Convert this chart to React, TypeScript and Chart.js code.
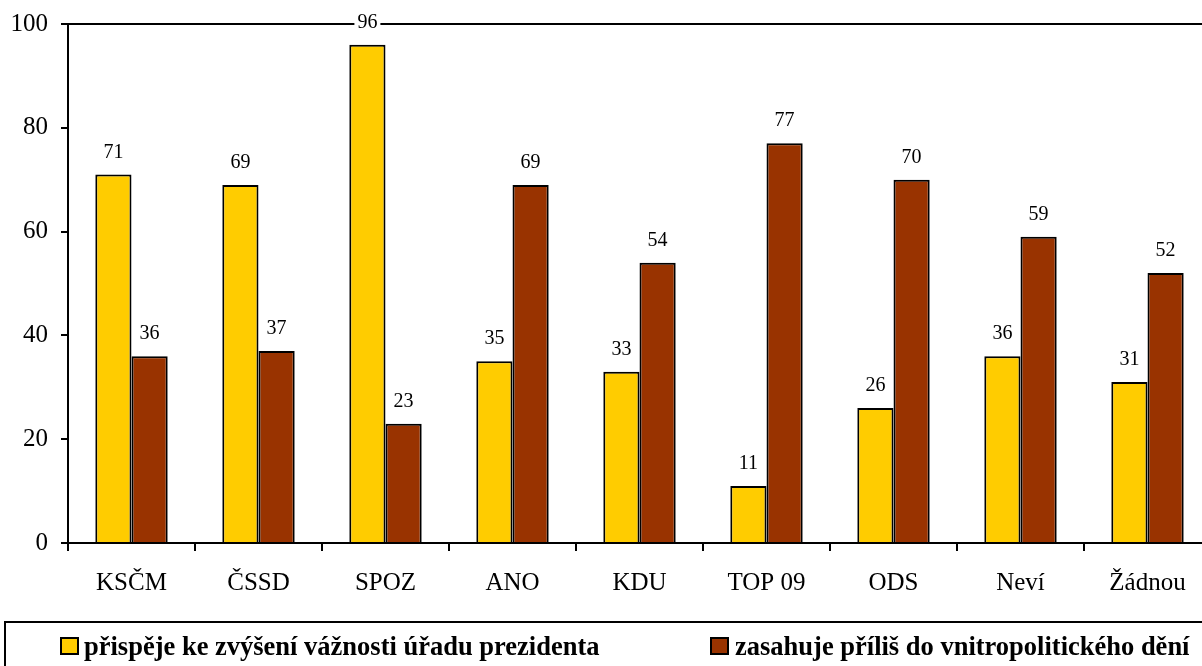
import React, { useEffect, useRef } from "react";
import { Chart, registerables } from "chart.js";

Chart.register(...registerables);

const categories = ["KSČM", "ČSSD", "SPOZ", "ANO", "KDU", "TOP 09", "ODS", "Neví", "Žádnou"];
const seriesPrestige = [71, 69, 96, 35, 33, 11, 26, 36, 31];
const seriesInterferes = [36, 37, 23, 69, 54, 77, 70, 59, 52];
const seriesNames = [
  "přispěje ke zvýšení vážnosti úřadu prezidenta",
  "zasahuje příliš do vnitropolitického dění",
];
const seriesColors = ["#FFCC00", "#993300"];
const yTicks = [0, 20, 40, 60, 80, 100];

const FONT = "'Liberation Serif', 'Times New Roman', serif";

const decorPlugin = {
  id: "decor",
  afterDatasetsDraw(chart: any) {
    const ctx = chart.ctx;
    const area = chart.chartArea;
    ctx.save();
    // top frame line
    ctx.strokeStyle = "#000";
    ctx.lineWidth = 2;
    ctx.beginPath();
    ctx.moveTo(61, area.top);
    ctx.lineTo(chart.width, area.top);
    ctx.stroke();
    // value labels
    ctx.font = `20px ${FONT}`;
    ctx.textAlign = "center";
    ctx.textBaseline = "alphabetic";
    chart.data.datasets.forEach((ds: any, di: number) => {
      const meta = chart.getDatasetMeta(di);
      meta.data.forEach((bar: any, i: number) => {
        const txt = String(ds.data[i]);
        const w = ctx.measureText(txt).width;
        const y = bar.y - 17;
        ctx.fillStyle = "#fff";
        ctx.fillRect(bar.x - w / 2 - 3, y - 16, w + 6, 20);
        ctx.fillStyle = "#000";
        ctx.fillText(txt, bar.x, y);
      });
    });
    ctx.restore();
  },
  afterDraw(chart: any) {
    const ctx = chart.ctx;
    ctx.save();
    ctx.strokeStyle = "#000";
    ctx.lineWidth = 2;
    ctx.strokeRect(5, 622, chart.width + 20, 80);
    const items = [
      { sx: 61, tx: 84 },
      { sx: 711, tx: 735 },
    ];
    ctx.font = `bold 26.5px ${FONT}`;
    ctx.textAlign = "left";
    ctx.textBaseline = "alphabetic";
    items.forEach((it, i) => {
      ctx.fillStyle = seriesColors[i];
      ctx.fillRect(it.sx, 638, 17, 16);
      ctx.lineWidth = 2;
      ctx.strokeStyle = "#000";
      ctx.strokeRect(it.sx, 638, 17, 16);
      ctx.fillStyle = "#000";
      ctx.fillText(seriesNames[i], it.tx, 655);
    });
    ctx.restore();
  },
};

export default function App() {
  const ref = useRef<HTMLCanvasElement>(null);
  useEffect(() => {
    if (!ref.current) return;
    const chart = new Chart(ref.current, {
      type: "bar",
      data: {
        labels: categories,
        datasets: [
          {
            label: seriesNames[0],
            data: seriesPrestige,
            backgroundColor: seriesColors[0],
            borderColor: "#000",
            borderWidth: 2,
          },
          {
            label: seriesNames[1],
            data: seriesInterferes,
            backgroundColor: seriesColors[1],
            borderColor: "#000",
            borderWidth: 2,
          },
        ],
      },
      options: {
        animation: false,
        responsive: false,
        maintainAspectRatio: false,
        layout: { padding: { left: 0, top: 24, right: 19, bottom: 0 } },
        datasets: { bar: { categoryPercentage: 0.57, barPercentage: 1 } },
        plugins: { legend: { display: false }, tooltip: { enabled: false } },
        scales: {
          x: {
            type: "category",
            offset: true,
            grid: {
              offset: true,
              drawOnChartArea: false,
              drawTicks: true,
              tickLength: 8,
              color: "#000",
              lineWidth: 2,
            },
            border: { color: "#000", width: 2 },
            ticks: {
              color: "#000",
              font: { family: FONT, size: 25 },
              padding: 17,
              maxRotation: 0,
              autoSkip: false,
            },
            afterFit: (s: any) => {
              s.height = 123;
              s.paddingLeft = 0;
              s.paddingRight = 0;
            },
          },
          y: {
            min: 0,
            max: 100,
            afterBuildTicks: (s: any) => {
              s.ticks = yTicks.map((v) => ({ value: v }));
            },
            grid: {
              drawOnChartArea: false,
              drawTicks: true,
              tickLength: 7,
              color: "#000",
              lineWidth: 2,
            },
            border: { color: "#000", width: 2 },
            ticks: {
              color: "#000",
              font: { family: FONT, size: 25 },
              padding: 13,
            },
            afterFit: (s: any) => {
              s.width = 68;
              s.paddingTop = 0;
              s.paddingBottom = 0;
            },
          },
        },
      },
      plugins: [decorPlugin],
    });
    return () => chart.destroy();
  }, []);
  return (
    <div
      style={{
        position: "absolute",
        left: 0,
        top: 0,
        width: 1202,
        height: 666,
        overflow: "hidden",
        background: "#fff",
      }}
    >
      <canvas ref={ref} width={1230} height={666} style={{ display: "block" }} />
    </div>
  );
}
